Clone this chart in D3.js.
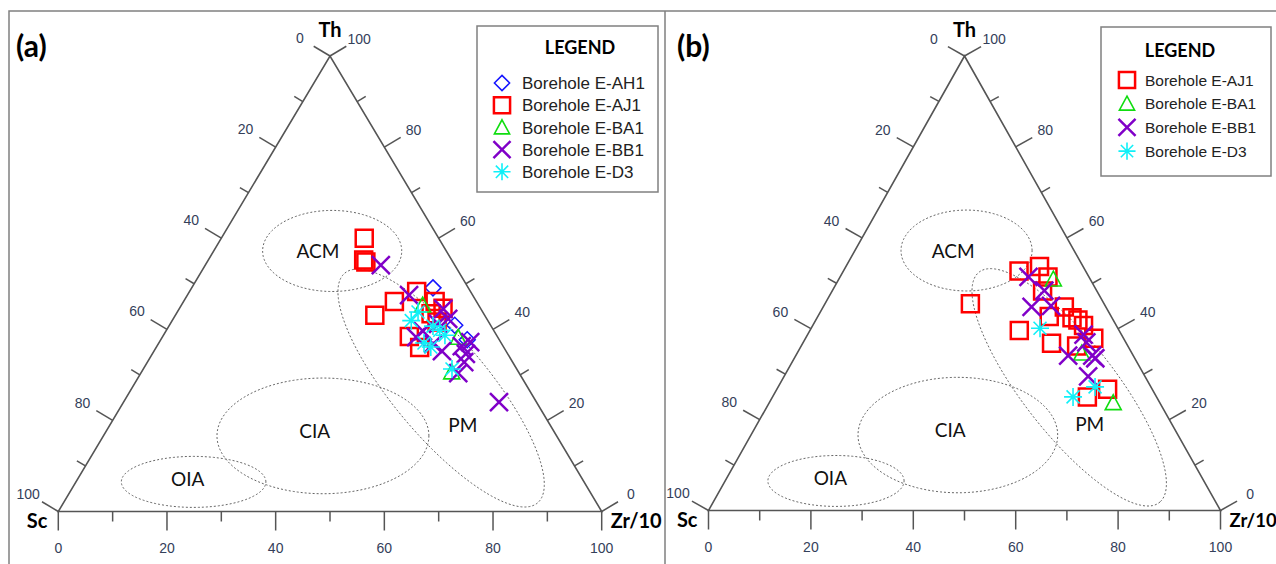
<!DOCTYPE html>
<html>
<head>
<meta charset="utf-8">
<script src="https://cdn.jsdelivr.net/npm/d3@7"></script>
<style>
  body { margin: 0; background: #fff; }
  svg { display: block; }
</style>
</head>
<body>
<svg id="chart" width="1276" height="564"></svg>
<script>
// Th - Sc - Zr/10 ternary plots, two panels
const tickValues = d3.range(0, 101, 10);
const tickLabels = [0, 20, 40, 60, 80, 100];

// samples, each [Th, Zr/10] in % (Sc is what is left)
const aAH1 = [[49.1, 44.4], [37.7, 56.4], [40.9, 52.5]];
const aAJ1 = [[60.0, 26.3], [55.2, 28.6], [54.8, 29.2], [48.3, 41.8], [46.1, 38.8], [43.1, 36.7],
              [46.1, 46.3], [44.6, 48.5], [38.4, 45.4], [36.0, 48.5], [43.4, 46.9], [41.6, 48.9]];
const aBA1 = [[45.3, 44.4], [30.6, 57.1], [38.2, 54.5]];
const aBB1 = [[54.1, 32.3], [47.5, 40.8], [24.0, 69.1], [44.5, 48.6], [42.3, 50.6], [39.6, 47.3],
              [35.2, 53.0], [36.3, 56.1], [34.6, 57.7], [32.8, 58.3], [30.4, 58.4], [36.8, 50.6],
              [41.2, 49.3], [38.3, 46.7], [37.2, 57.2]];
const aD3 = [[43.8, 44.3], [41.9, 44.0], [40.7, 48.6], [38.7, 51.8], [37.0, 48.8], [36.1, 50.5],
             [31.3, 56.8], [39.8, 50.3]];

const bAJ1 = [[52.7, 34.3], [53.7, 37.8], [51.4, 40.6], [45.5, 28.4], [48.3, 41.1], [44.8, 47.1],
              [42.7, 45.2], [41.9, 51.2], [40.7, 52.9], [39.6, 40.9], [36.8, 48.6], [37.9, 56.3],
              [36.2, 53.8], [26.7, 64.6], [25.0, 61.5], [42.4, 49.8]];
const bBA1 = [[50.9, 41.9], [34.6, 55.6], [23.7, 67.2]];
const bBB1 = [[51.4, 36.8], [48.4, 41.4], [44.8, 40.7], [45.0, 44.4], [34.1, 53.2], [38.7, 53.9],
              [34.1, 57.9], [33.5, 58.8], [29.5, 59.4], [37.0, 55.3]];
const bD3 = [[40.1, 44.7], [25.0, 58.7], [27.2, 61.9]];

// tectonic fields: name, centre [Th, Zr], semi axes (fractions of the triangle), label [Th, Zr]
const fieldNames = ["ACM", "CIA", "OIA", "PM"];
const fieldCentres = [[57.2, 21.8], [16.6, 40.4], [6.5, 21.65], [27.1, 56.9]];
const fieldAxes = [
  [[0.128, 0], [0, 0.089]],
  [[0.195, 0], [0, 0.127]],
  [[0.133, 0], [0, 0.056]],
  [[0.1774, -0.2522], [-0.0677, -0.0678]]
];
const fieldLabels = [[57.1, 19.25], [17.7, 38.35], [7.1, 20.25], [18.9, 65.0]];

const shapes = {
  diamond: { draw(c, r) { c.moveTo(0, -r); c.lineTo(r, 0); c.lineTo(0, r); c.lineTo(-r, 0); c.closePath(); } },
  square: { draw(c, r) { c.rect(-r, -r, 2 * r, 2 * r); } },
  triangle: { draw(c, r) { c.moveTo(0, -r); c.lineTo(r, r * 0.85); c.lineTo(-r, r * 0.85); c.closePath(); } },
  times: { draw(c, r) { c.moveTo(-r, -r); c.lineTo(r, r); c.moveTo(r, -r); c.lineTo(-r, r); } },
  asterisk: { draw(c, r) {
    const d = r * 0.72;
    c.moveTo(-r, 0); c.lineTo(r, 0); c.moveTo(0, -r); c.lineTo(0, r);
    c.moveTo(-d, -d); c.lineTo(d, d); c.moveTo(d, -d); c.lineTo(-d, d);
  } }
};

const series = {
  AH1: { name: "Borehole E-AH1", shape: "diamond", color: "#1414ff", r: 8, w: 1.5 },
  AJ1: { name: "Borehole E-AJ1", shape: "square", color: "#ff0000", r: 8.5, w: 2.5 },
  BA1: { name: "Borehole E-BA1", shape: "triangle", color: "#10dd10", r: 8, w: 1.6 },
  BB1: { name: "Borehole E-BB1", shape: "times", color: "#8000c8", r: 9, w: 2.5 },
  D3: { name: "Borehole E-D3", shape: "asterisk", color: "#10f0f8", r: 9, w: 1.6 }
};

const svg = d3.select("#chart");

svg.append("path")
  .attr("d", "M9,564V11H1276M665,11V564")
  .attr("fill", "none")
  .attr("stroke", "#808080")
  .attr("stroke-width", 1.5);

function drawPanel(p) {
  const g = svg.append("g");
  const x = d3.scaleLinear().domain([0, 1]).range([p.left, p.right]);
  const y = d3.scaleLinear().domain([0, 1]).range([p.base, p.top]);
  const pos = (th, zr) => [x(zr / 100 + th / 200), y(th / 100)];
  const sc = pos(0, 0), th = pos(100, 0), zr = pos(0, 100);

  g.append("path")
    .attr("d", d3.line()([sc, th, zr]) + "Z")
    .attr("fill", "none")
    .attr("stroke", "#555")
    .attr("stroke-width", 1.6);

  // outward normals of the left and right sides
  const unit = (a, b) => { const dx = b[0] - a[0], dy = b[1] - a[1], l = Math.hypot(dx, dy); return [dx / l, dy / l]; };
  const dl = unit(sc, th), dr = unit(zr, th);
  const nl = [dl[1], -dl[0]], nr = [-dr[1], dr[0]];

  const axes = [
    { at: v => pos(100 - v, 0), n: nl, off: 35 },
    { at: v => pos(v, 100 - v), n: nr, off: 34 },
    { at: v => pos(0, v), n: [0, 1], off: 36 }
  ];

  axes.forEach(a => {
    g.append("g").selectAll("line")
      .data(tickValues)
      .join("line")
      .attr("x1", v => a.at(v)[0])
      .attr("y1", v => a.at(v)[1])
      .attr("x2", v => a.at(v)[0] + a.n[0] * (v % 20 ? 10 : 19))
      .attr("y2", v => a.at(v)[1] + a.n[1] * (v % 20 ? 10 : 19))
      .attr("stroke", "#555")
      .attr("stroke-width", 1.5);
    g.append("g").selectAll("text")
      .data(tickLabels)
      .join("text")
      .attr("x", v => a.at(v)[0] + a.n[0] * a.off)
      .attr("y", v => a.at(v)[1] + a.n[1] * a.off)
      .attr("dy", "0.36em")
      .attr("text-anchor", "middle")
      .attr("font-family", "Liberation Sans, Arial, sans-serif")
      .attr("font-size", 14)
      .attr("fill", "#34405a")
      .text(d => d);
  });

  const title = (t, px, py, anchor, size) => g.append("text")
    .attr("x", px).attr("y", py)
    .attr("text-anchor", anchor)
    .attr("font-family", "Lato, sans-serif")
    .attr("font-weight", "bold")
    .attr("font-size", size)
    .attr("fill", "#000")
    .text(t);

  title("Th", th[0], th[1] - 19, "middle", 20);
  title("Sc", sc[0] - 11, sc[1] + 16, "end", 20);
  title("Zr/10", zr[0] + 9, zr[1] + 16, "start", p.zrSize);
  title(p.tag, p.tagX, 57, "start", 30);

  // fields
  const steps = d3.range(0, 2 * Math.PI, Math.PI / 90);
  fieldNames.forEach((name, i) => {
    const c = fieldCentres[i], ax = fieldAxes[i];
    const u0 = c[1] / 100 + c[0] / 200, v0 = c[0] / 100;
    const pts = steps.map(t => [
      x(u0 + ax[0][0] * Math.cos(t) + ax[1][0] * Math.sin(t)),
      y(v0 + ax[0][1] * Math.cos(t) + ax[1][1] * Math.sin(t))
    ]);
    g.append("path")
      .attr("d", d3.line().curve(d3.curveLinearClosed)(pts))
      .attr("fill", "none")
      .attr("stroke", "#666")
      .attr("stroke-width", 1)
      .attr("stroke-dasharray", "2,2");
    const lp = pos(fieldLabels[i][0], fieldLabels[i][1]);
    g.append("text")
      .attr("x", lp[0]).attr("y", lp[1])
      .attr("dy", "0.36em")
      .attr("text-anchor", "middle")
      .attr("font-family", "Lato, sans-serif")
      .attr("font-size", 19)
      .attr("fill", "#111")
      .text(name);
  });

  // samples
  p.sets.forEach(([key, data]) => {
    const s = series[key];
    g.append("g").selectAll("path")
      .data(data)
      .join("path")
      .attr("transform", d => `translate(${pos(d[0], d[1])})`)
      .attr("d", d3.symbol().type(shapes[s.shape]).size(s.r))
      .attr("fill", "none")
      .attr("stroke", s.color)
      .attr("stroke-width", s.w);
  });

  // legend
  const L = p.legend;
  const lg = g.append("g");
  lg.append("rect")
    .attr("x", L.x).attr("y", L.y).attr("width", L.w).attr("height", L.h)
    .attr("fill", "#fff").attr("stroke", "#808080").attr("stroke-width", 1.5);
  lg.append("text")
    .attr("x", L.titleX).attr("y", L.titleY)
    .attr("text-anchor", "middle")
    .attr("font-family", "Lato, sans-serif")
    .attr("font-weight", "bold")
    .attr("font-size", 18)
    .text("LEGEND");
  p.sets.forEach(([key], i) => {
    const s = series[key];
    const ry = L.row0 + i * L.step;
    lg.append("path")
      .attr("transform", `translate(${L.mx},${ry})`)
      .attr("d", d3.symbol().type(shapes[s.shape]).size(s.r * 0.95))
      .attr("fill", "none")
      .attr("stroke", s.color)
      .attr("stroke-width", s.w);
    lg.append("text")
      .attr("x", L.tx).attr("y", ry)
      .attr("dy", "0.36em")
      .attr("font-family", "Liberation Sans, Arial, sans-serif")
      .attr("font-size", L.fs)
      .attr("fill", "#222")
      .text(s.name);
  });
}

drawPanel({
  tag: "(a)", tagX: 16, zrSize: 20,
  left: 58.3, right: 601.7, base: 511.5, top: 56,
  sets: [["AH1", aAH1], ["AJ1", aAJ1], ["BA1", aBA1], ["BB1", aBB1], ["D3", aD3]],
  legend: { x: 477, y: 26, w: 181, h: 166, titleX: 580, titleY: 54, row0: 83, step: 22.2, mx: 502, tx: 522, fs: 17 }
});

drawPanel({
  tag: "(b)", tagX: 677, zrSize: 18.5,
  left: 708.5, right: 1220.5, base: 510.5, top: 56,
  sets: [["AJ1", bAJ1], ["BA1", bBA1], ["BB1", bBB1], ["D3", bD3]],
  legend: { x: 1101, y: 27, w: 170, h: 149, titleX: 1180, titleY: 57, row0: 80, step: 23.7, mx: 1127, tx: 1145, fs: 15.5 }
});
</script>
</body>
</html>
